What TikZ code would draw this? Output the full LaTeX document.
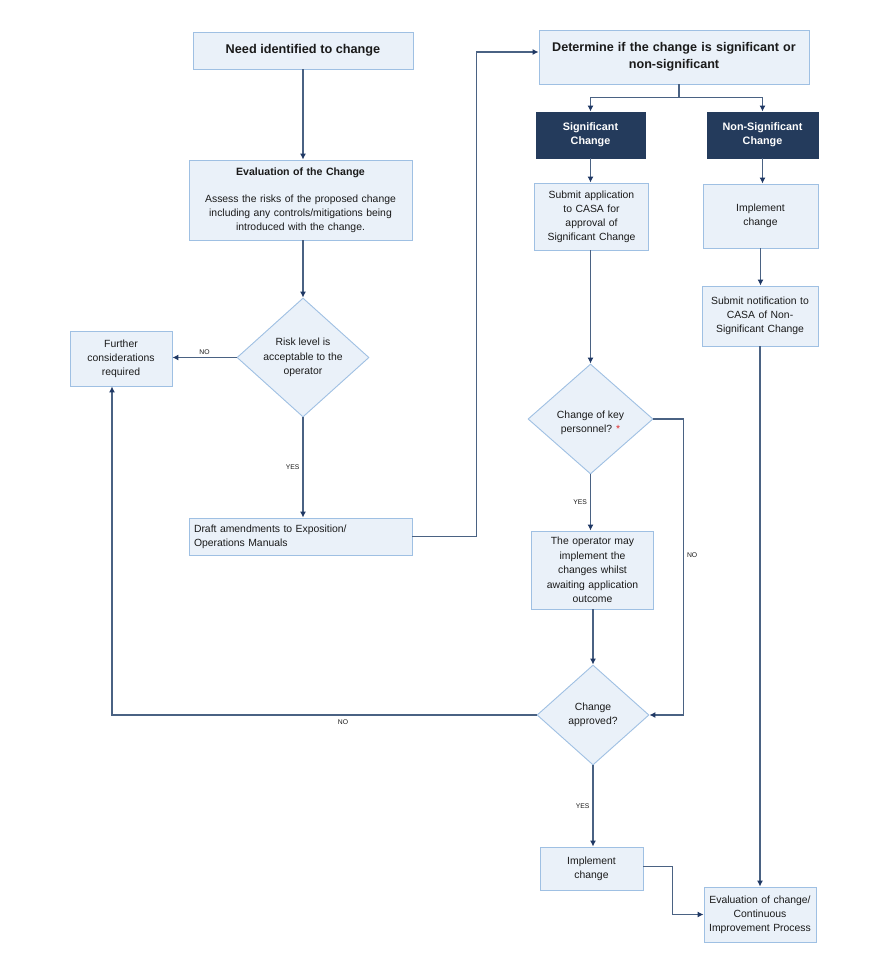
\documentclass[tikz,border=0pt]{standalone}
\usepackage{fontspec}
\setmainfont{Liberation Sans}
\usetikzlibrary{shapes.geometric,arrows.meta,calc}
\definecolor{boxfill}{HTML}{EAF1F9}
\definecolor{boxline}{HTML}{9FC0E3}
\definecolor{linecol}{HTML}{4A6283}
\definecolor{headcol}{HTML}{1F3864}
\definecolor{navy}{HTML}{243B5C}
\definecolor{txt}{HTML}{1A1A1A}
\definecolor{ast}{HTML}{E03030}
\tikzset{
  box/.style={draw=boxline, fill=boxfill, line width=0.9pt, align=center, text=txt,
    font=\fontsize{10.4}{14}\selectfont, inner sep=2pt},
  darkbox/.style={draw=navy, fill=navy, line width=0.9pt, align=center, text=white,
    font=\bfseries\fontsize{10.8}{14}\selectfont, inner sep=2pt},
  decision/.style={diamond, draw=boxline, fill=boxfill, line width=0.9pt, align=center, text=txt,
    font=\fontsize{10.4}{14.5}\selectfont, inner sep=0pt},
  conn/.style={draw=linecol, line width=1.1pt, -{Latex[length=6pt,width=6pt,color=headcol]}},
  lbl/.style={font=\fontsize{6.8}{8}\selectfont, text=txt, inner sep=1pt}
}
\begin{document}
\begin{tikzpicture}[x=1pt,y=-1pt]
\useasboundingbox (0,0) rectangle (887,975);
\fill[white] (0,0) rectangle (887,975);

% left column
\node[box, minimum width=220, minimum height=37, font=\bfseries\fontsize{12.7}{15}\selectfont] (need) at (303,50.5) {Need identified to change};
\node[box, minimum width=223, minimum height=80, text width=219] (eval) at (300.5,200)
  {\textbf{\fontsize{10.6}{14}\selectfont Evaluation of the Change}\\[13pt]Assess the risks of the proposed change\\including any\ controls/mitigations being\\introduced with the change.};
\node[decision, minimum width=132, minimum height=119] (risk) at (303,357.5) {Risk level is\\acceptable to the\\operator};
\node[box, minimum width=102, minimum height=55, text width=98] (further) at (121,358.5) {Further\\considerations\\required};
\node[box, minimum width=223, minimum height=37, text width=213, align=left] (draft) at (300.5,536.5) {Draft amendments to Exposition/\\Operations Manuals};

% right part
\node[box, minimum width=270, minimum height=54, text width=266, font=\bfseries\fontsize{12.6}{17}\selectfont] (det) at (674,57) {Determine if the change is significant or\\non-significant};
\node[darkbox, minimum width=109, minimum height=46] (sig) at (590.5,135) {Significant\\Change};
\node[darkbox, minimum width=111, minimum height=46] (nonsig) at (762.5,135) {Non-Significant\\Change};
\node[box, minimum width=113, minimum height=67, text width=110] (subapp) at (591.5,216.5) {Submit application\\to CASA for\\approval of\\Significant Change};
\node[box, minimum width=115, minimum height=64, text width=110] (impl) at (760.5,216) {Implement\\change\\[9pt]};
\node[box, minimum width=116, minimum height=60, text width=112] (subnot) at (760,316) {Submit notification to\\CASA of Non-\\Significant Change\\[-6pt]};
\node[decision, minimum width=125, minimum height=110] (key) at (590.5,419) {\\[1pt]Change of key\\personnel? \textcolor{ast}{*}};
\node[box, minimum width=121, minimum height=78, text width=118, font=\fontsize{10.4}{14.5}\selectfont] (oper) at (592.5,570) {The operator may\\implement the\\changes whilst\\awaiting application\\outcome};
\node[decision, minimum width=112, minimum height=100] (appr) at (593,715) {Change\\approved?};
\node[box, minimum width=103, minimum height=43, text width=99] (impl2) at (591.5,868.5) {Implement\\change\\[-2pt]};
\node[box, minimum width=110, minimum height=55, text width=108] (evalc) at (760,914.5) {Evaluation of change/\\Continuous\\Improvement Process};

% connectors
\draw[conn] (need.south) -- (need.south |- eval.north);
\draw[conn] (risk.north |- eval.south) -- (risk.north);
\draw[conn] (risk.west) -- (further.east |- risk.west) node[lbl, midway, above=1pt] (no1) {NO};
\draw[conn] (risk.south) -- (draft.north -| risk.south) node[lbl, pos=0.5, left=2pt] (yes1) {YES};
\draw[conn] (draft.east) -- ++(64,0) |- ([yshift=5pt]det.west);
\draw[conn] ([xshift=5pt]det.south) -- ++(0,13) -| (sig.north);
\draw[conn] ([xshift=5pt]det.south) -- ++(0,13) -| (nonsig.north);
\draw[conn] (sig.south) -- (sig.south |- subapp.north);
\draw[conn] (nonsig.south) -- (nonsig.south |- impl.north);
\draw[conn] (impl.south) -- (impl.south |- subnot.north);
\draw[conn] (key.north |- subapp.south) -- (key.north);
\draw[conn] (key.south) -- (oper.north -| key.south) node[lbl, midway, left=2pt] (yes2) {YES};
\draw[conn] (key.east) -- ++(30,0) |- (appr.east) node[lbl, pos=0.23, right=2pt] (no2) {NO};
\draw[conn] (oper.south -| appr.north) -- (appr.north);
\draw[conn] (appr.south) -- (impl2.north -| appr.south) node[lbl, midway, left=2pt] (yes3) {YES};
\draw[conn] (appr.west) -| ([xshift=-9pt]further.south) node[lbl, pos=0.228, below=3pt] (no3) {NO};
\draw[conn] ([yshift=2pt]impl2.east) -- ++(29,0) |- (evalc.west);
\draw[conn] (subnot.south) -- (subnot.south |- evalc.north);
\end{tikzpicture}
\end{document}
